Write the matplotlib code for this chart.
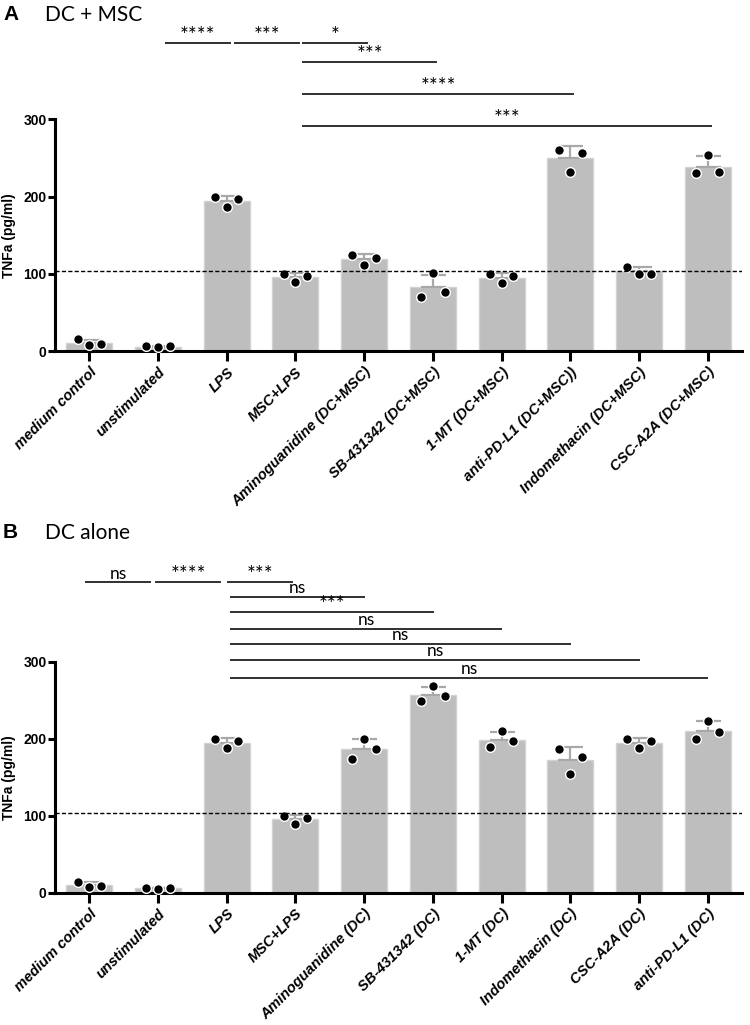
import numpy as np
import matplotlib.pyplot as plt
import matplotlib.transforms as mtransforms

# panel A: DC + MSC
groups_a = ['medium control', 'unstimulated', 'LPS', 'MSC+LPS',
            'Aminoguanidine (DC+MSC)', 'SB-431342 (DC+MSC)', '1-MT (DC+MSC)',
            'anti-PD-L1 (DC+MSC))', 'Indomethacin (DC+MSC)', 'CSC-A2A (DC+MSC)']
points_a = [[15, 8, 9], [6, 5, 6], [199, 187, 197], [100, 90, 97],
            [124, 111, 121], [70, 101, 77], [100, 88, 97],
            [261, 232, 256], [109, 100, 100], [230, 254, 232]]
pairs_a = [(1, 2), (2, 3), (3, 4), (3, 5), (3, 7), (3, 9)]
stars_a = ['****', '***', '*', '***', '****', '***']
levels_a = [399, 399, 399, 375, 333, 292]

# panel B: DC alone
groups_b = ['medium control', 'unstimulated', 'LPS', 'MSC+LPS',
            'Aminoguanidine (DC)', 'SB-431342 (DC)', '1-MT (DC)',
            'Indomethacin (DC)', 'CSC-A2A (DC)', 'anti-PD-L1 (DC)']
points_b = [[14, 7, 9], [6, 5, 6], [199, 188, 197], [100, 89, 97],
            [173, 200, 186], [249, 268, 255], [189, 210, 197],
            [187, 154, 176], [199, 188, 197], [199, 223, 209]]
pairs_b = [(0, 1), (1, 2), (2, 3), (2, 4), (2, 5), (2, 6), (2, 7), (2, 8), (2, 9)]
stars_b = ['ns', '****', '***', 'ns', '***', 'ns', 'ns', 'ns', 'ns']
levels_b = [403, 403, 403, 384, 364, 343, 323, 302, 279]

ref_line = 104
yticks = [0, 100, 200, 300]

W, H = 750, 1025
fig = plt.figure(figsize=(W / 100, H / 100), dpi=100)

lab_font = dict(family='Liberation Sans', weight='bold')
title_font = 'Lato'


def panel(ax, groups, points, pairs, stars, levels, shifts):
    pts = np.array(points, dtype=float)
    x = np.arange(len(groups))
    mean = pts.mean(axis=1)
    sd = pts.std(axis=1, ddof=1)
    ax.bar(x, mean, width=0.67, color='#bebebe', edgecolor='#d2d2d2', lw=1, zorder=1)
    ax.errorbar(x, mean, yerr=[np.zeros_like(sd), sd], fmt='none', ecolor='#a8a8a8',
                elinewidth=1.6, capsize=9, capthick=1.6, zorder=2)
    offs = [-0.17, 0, 0.17]
    for k in range(pts.shape[1]):
        ax.plot(x + offs[k], pts[:, k], 'o', ms=7, mfc='black', mec='white', mew=1,
                zorder=3, clip_on=False)
    ax.axhline(ref_line, color='black', ls=(0, (3, 1.6)), lw=1, zorder=4)

    ax.set_xlim(-0.5, len(groups) - 0.5)
    ax.set_ylim(0, 300)
    ax.set_yticks(yticks)
    ax.set_yticklabels([str(t) for t in yticks], fontsize=10, **lab_font)
    ax.set_xticks(x)
    ax.set_xticklabels(groups, rotation=45, ha='right', rotation_mode='anchor',
                       fontsize=10.5, style='italic', **lab_font)
    shift = mtransforms.ScaledTranslation(5 / 100, 0, fig.dpi_scale_trans)
    for lab in ax.get_xticklabels():
        lab.set_transform(lab.get_transform() + shift)
    ax.set_ylabel('TNFa (pg/ml)', fontsize=10, labelpad=5, **lab_font)
    for s in ['top', 'right']:
        ax.spines[s].set_visible(False)
    for s in ['left', 'bottom']:
        ax.spines[s].set_linewidth(2.2)
    ax.tick_params(axis='y', length=5, width=2.2, pad=1)
    ax.tick_params(axis='x', length=7, width=2.2, pad=3)

    for (i, j), txt, lvl, sh in zip(pairs, stars, levels, shifts):
        x0, x1 = i + sh + 0.02, j + sh - 0.02
        ax.plot([x0, x1], [lvl, lvl], color='#303030', lw=1.4, clip_on=False,
                solid_capstyle='butt')
        if txt == 'ns':
            ax.text((x0 + x1) / 2, lvl + 1, txt, ha='center', va='bottom',
                    fontsize=12.5, family=title_font, clip_on=False)
        else:
            ax.text((x0 + x1) / 2, lvl - 4, txt, ha='center', va='bottom',
                    fontsize=15, family=title_font, clip_on=False)


ax_a = fig.add_axes([55 / W, 1 - 351 / H, 687 / W, 231.6 / H])
panel(ax_a, groups_a, points_a, pairs_a, stars_a, levels_a, [0.08] * len(pairs_a))

ax_b = fig.add_axes([55 / W, 1 - 892.7 / H, 687 / W, 231 / H])
panel(ax_b, groups_b, points_b, pairs_b, stars_b, levels_b,
      [-0.08, -0.06, -0.02] + [0.03] * (len(pairs_b) - 3))

for lab, title, ypx in [('A', 'DC + MSC', 15), ('B', 'DC alone', 533)]:
    fig.text(3 / W, 1 - ypx / H, lab, fontsize=15, weight='bold', va='center',
             family='Liberation Sans')
    fig.text(45 / W, 1 - ypx / H, title, fontsize=15, va='center', family=title_font)

fig.savefig('out.png', dpi=100)
